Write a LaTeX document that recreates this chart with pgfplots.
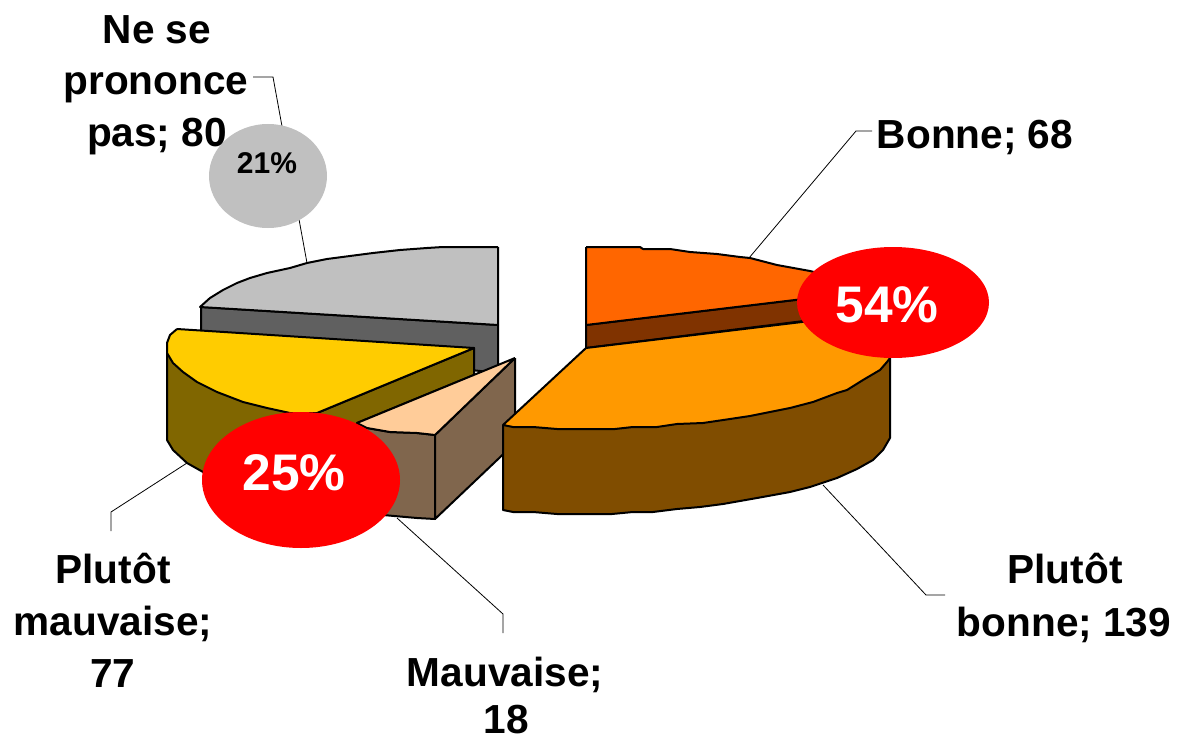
\documentclass[border=0pt]{standalone}
\usepackage{fontspec}
\setmainfont{Liberation Sans}
\usepackage{pgfplots}
\pgfplotsset{compat=1.18}
\definecolor{cBonne}{HTML}{FF6600}
\definecolor{cBonneS}{HTML}{803300}
\definecolor{cPB}{HTML}{FF9900}
\definecolor{cPBS}{HTML}{804D00}
\definecolor{cPM}{HTML}{FFCC00}
\definecolor{cPMS}{HTML}{806600}
\definecolor{cM}{HTML}{FFCC99}
\definecolor{cMS}{HTML}{80664D}
\definecolor{cN}{HTML}{C0C0C0}
\definecolor{cNS}{HTML}{606060}
\pgfplotsset{
  slice/.style={draw=black,line width=2pt,line join=round,fill=#1},
  leader/.style={draw=black,line width=0.8pt,no markers},
}
\newcommand{\lbl}[3]{\node[anchor=base,inner sep=0pt,font=\fontsize{40.6}{40}\selectfont\bfseries] at (axis cs:#1,#2) {#3};}
\begin{document}
\begin{tikzpicture}
\path[use as bounding box] (0,0) rectangle (1177pt,738pt);
\begin{axis}[
  at={(0,0)},anchor=south west,
  scale only axis,width=1177pt,height=738pt,
  xmin=0,xmax=1177,ymin=0,ymax=738,y dir=reverse,
  hide axis,clip=false]
% leader lines
\addplot[leader] coordinates {(749,258)(856,131)(872,131)};
\addplot[leader] coordinates {(253,77)(273,77)(307,263)};
\addplot[leader] coordinates {(823,485)(926,595)(945,595)};
\addplot[leader] coordinates {(187,463)(111,512)(111,531)};
\addplot[leader] coordinates {(397,518)(503,614)(503,633)};
% Ne se prononce pas
\addplot[slice=cNS] coordinates {(201,307)(498,325)(498,373)(201,340)(201,307)};
\addplot[slice=cN] coordinates {(498,247)(443,247)(427,248)(400,250)(373,253)(350,256)(327,259)(307,263)(290,268)(267,273)(250,278)(237,283)(223,290)(210,298)(200,307)(498,325)(498,247)};
% Plutot mauvaise
\addplot[slice=cPMS] coordinates {(167,353)(167,440)(173,450)(187,463)(203,472)(250,490)(357,500)(357,423)(474,375)(474,348)(317,413)(290,413)(167,353)};
\addplot[slice=cPM] coordinates {(177,329)(474,348)(317,413)(290,413)(267,408)(243,402)(217,392)(197,382)(183,372)(173,363)(167,353)(167,343)(170,335)(177,329)};
% Mauvaise
\addplot[slice=cMS] coordinates {(357,423)(367,428)(390,432)(417,433)(435,435)(435,519)(417,518)(383,515)(357,505)(357,423)};
\addplot[slice=cMS] coordinates {(515,358)(435,435)(435,519)(515,443)(515,358)};
\addplot[slice=cM] coordinates {(515,358)(435,435)(417,433)(390,432)(367,428)(357,423)(515,358)};
% Bonne
\addplot[slice=cBonneS] coordinates {(586,325)(820,297)(820,319)(586,348)(586,325)};
\addplot[slice=cBonne] coordinates {(586,247)(640,247)(643,249)(670,249)(690,252)(717,254)(740,257)(750,258)(777,265)(810,271)(830,276)(820,297)(586,325)(586,247)};
% Plutot bonne
\addplot[slice=cPBS] coordinates {(503,425)(503,510)(513,512)(533,512)(557,514)(612,514)(633,512)(653,512)(677,509)(700,507)(723,504)(757,498)(790,492)(810,487)(837,478)(857,469)(873,460)(883,450)(890,438)(890,358)(503,425)};
\addplot[slice=cPB] coordinates {(586,348)(860,315)(890,358)(887,362)(880,370)(863,380)(847,390)(837,393)(813,402)(790,408)(770,412)(750,416)(730,419)(703,423)(677,424)(657,427)(633,427)(615,429)(587,429)(557,429)(533,427)(513,427)(503,425)(586,348)};
% callouts
\fill[red] (axis cs:893,302.5) ellipse [x radius=96,y radius=55.5];
\fill[red] (axis cs:301,480) ellipse [x radius=99,y radius=68];
\fill[cN] (axis cs:268,176) ellipse [x radius=59,y radius=52];
\node[anchor=base,inner sep=0pt,text=white,font=\fontsize{51.5}{51}\selectfont\bfseries] at (axis cs:887,322) {54\%};
\node[anchor=base,inner sep=0pt,text=white,font=\fontsize{51.5}{51}\selectfont\bfseries] at (axis cs:294,490) {25\%};
\node[anchor=base,inner sep=0pt,font=\fontsize{30}{30}\selectfont\bfseries] at (axis cs:267,174) {21\%};
% labels
\lbl{157}{44}{Ne se}
\lbl{156}{95}{prononce}
\lbl{157}{147}{pas; 80}
\lbl{975}{149}{Bonne; 68}
\lbl{1065}{583}{Plutôt}
\lbl{1064}{636}{bonne; 139}
\lbl{113}{583}{Plutôt}
\lbl{113}{635}{mauvaise;}
\lbl{113}{687}{77}
\lbl{505}{686}{Mauvaise;}
\lbl{506}{733}{18}
\end{axis}
\end{tikzpicture}
\end{document}
